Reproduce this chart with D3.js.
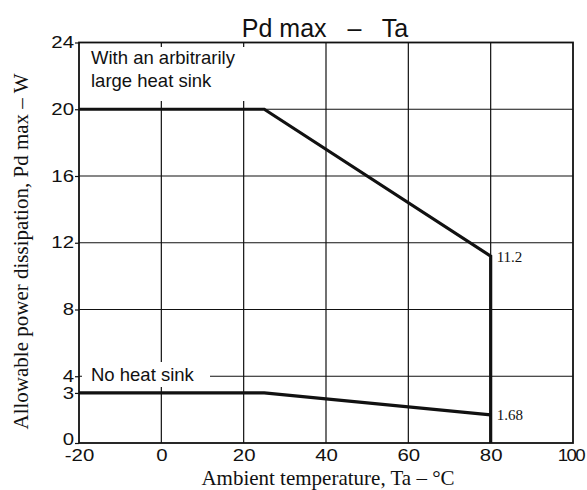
<!DOCTYPE html>
<html><head><meta charset="utf-8">
<script src="https://cdn.jsdelivr.net/npm/d3@7/dist/d3.min.js"></script>
<style>body{margin:0;background:#fff}</style>
</head><body>
<svg id="c" width="587" height="490"></svg>
<script>
const xTicks = [-20, 0, 20, 40, 60, 80, 100];
const yTicks = [0, 3, 4, 8, 12, 16, 20, 24];
const xGrid = [0, 20, 40, 60, 80];
const yGrid = [4, 8, 12, 16, 20];
const heatSinkT = [-20, 25, 80, 80];
const heatSinkP = [20, 20, 11.2, 0];
const noSinkT = [-20, 25, 80];
const noSinkP = [3, 3, 1.68];

const svg = d3.select("#c");
const x = d3.scaleLinear().domain([-20, 100]).range([79, 573]);
const y = d3.scaleLinear().domain([0, 24]).range([443, 42.5]);
const sans = "'Liberation Sans', Arial, sans-serif";
const serif = "'Liberation Serif', 'Times New Roman', serif";

// grid
svg.append("g").selectAll("line").data(xGrid).join("line")
  .attr("x1", d => x(d)).attr("x2", d => x(d)).attr("y1", y(24)).attr("y2", y(0))
  .attr("stroke", "#111").attr("stroke-width", 1.2);
svg.append("g").selectAll("line").data(yGrid).join("line")
  .attr("x1", x(-20)).attr("x2", x(100)).attr("y1", d => y(d)).attr("y2", d => y(d))
  .attr("stroke", "#111").attr("stroke-width", 1.2);

// white backgrounds behind the inner labels
svg.append("rect").attr("x", 81).attr("y", 47).attr("width", 170).attr("height", 54).attr("fill", "#fff");
svg.append("rect").attr("x", 82).attr("y", 362).attr("width", 128).attr("height", 25).attr("fill", "#fff");

// frame
svg.append("rect").attr("x", x(-20)).attr("y", y(24))
  .attr("width", x(100) - x(-20)).attr("height", y(0) - y(24))
  .attr("fill", "none").attr("stroke", "#111").attr("stroke-width", 1.8);

// axes
const xa = svg.append("g").attr("transform", `translate(0,${y(0)})`)
  .call(d3.axisBottom(x).tickValues(xTicks).tickFormat(d => String(d)).tickSize(0).tickPadding(4));
const ya = svg.append("g").attr("transform", `translate(${x(-20)},0)`)
  .call(d3.axisLeft(y).tickValues(yTicks).tickFormat(d => String(d)).tickSize(4).tickPadding(1));
[xa, ya].forEach(a => {
  a.select(".domain").remove();
  a.selectAll("text").attr("font-family", sans).attr("font-size", 17).attr("fill", "#111");
  a.selectAll("line").attr("stroke", "#111").attr("stroke-width", 1.2);
});
xa.selectAll("text").attr("y", 18.5).attr("dy", 0).attr("transform", "scale(1.2,1)");
xa.selectAll("text").filter(d => d === 100)
  .attr("transform", "scale(1.1,1)").attr("letter-spacing", -1.5).attr("x", -2.5);
ya.selectAll("text").attr("dy", d => d === 0 ? "0.1em" : "0.3em").attr("x", -4.2).attr("transform", "scale(1.2,1)");

// labels inside
svg.append("text").attr("x", 91).attr("y", 64.3).attr("font-family", sans).attr("font-size", 18.5)
  .attr("fill", "#111").text("With an arbitrarily");
svg.append("text").attr("x", 91).attr("y", 86.5).attr("font-family", sans).attr("font-size", 18.5)
  .attr("fill", "#111").text("large heat sink");
svg.append("text").attr("x", 91).attr("y", 380.5).attr("font-family", sans).attr("font-size", 18.5)
  .attr("fill", "#111").text("No heat sink");

// data lines
const line = d3.line().x(d => x(d[0])).y(d => y(d[1]));
svg.append("path").datum(heatSinkT.map((t, i) => [t, heatSinkP[i]])).attr("d", line)
  .attr("fill", "none").attr("stroke", "#111").attr("stroke-width", 3.2).attr("stroke-linejoin", "miter");
svg.append("path").datum(noSinkT.map((t, i) => [t, noSinkP[i]])).attr("d", line)
  .attr("fill", "none").attr("stroke", "#111").attr("stroke-width", 3.2);

// value labels
svg.append("text").attr("x", x(80) + 6).attr("y", y(11.2) + 5.5).attr("font-family", serif)
  .attr("font-size", 15).attr("fill", "#111").text("11.2");
svg.append("text").attr("x", x(80) + 6).attr("y", y(1.68) + 5).attr("font-family", serif)
  .attr("font-size", 15).attr("fill", "#111").text("1.68");

// title
svg.append("text").attr("x", 325).attr("y", 36.5).attr("text-anchor", "middle")
  .attr("font-family", sans).attr("font-size", 25).attr("fill", "#111")
  .attr("xml:space", "preserve").text("Pd max   –   Ta");

// axis titles
svg.append("text").attr("x", 328).attr("y", 485).attr("text-anchor", "middle")
  .attr("font-family", serif).attr("font-size", 21).attr("fill", "#111")
  .text("Ambient temperature, Ta – °C");
svg.append("text").attr("transform", "translate(28,251.5) rotate(-90)").attr("text-anchor", "middle")
  .attr("font-family", serif).attr("font-size", 21).attr("fill", "#111")
  .text("Allowable power dissipation, Pd max – W");
</script>
</body></html>
